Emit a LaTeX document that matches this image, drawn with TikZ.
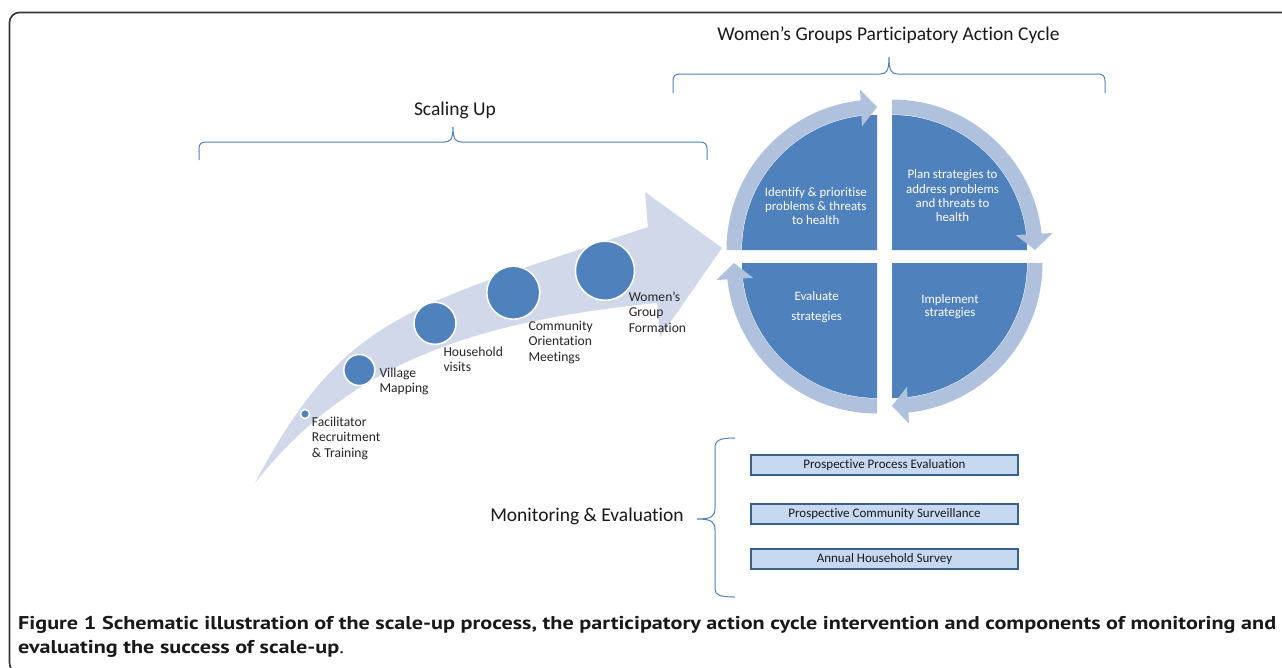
\documentclass[tikz,border=0pt]{standalone}
\usepackage{fontspec}
\setmainfont{Carlito}[Ligatures=NoCommon]
\newfontfamily\capfont{PT Sans}[Ligatures=NoCommon]
\usepackage{graphicx}
\usetikzlibrary{arrows.meta,bending}
\definecolor{qblue}{HTML}{4F81BD}
\definecolor{ringblue}{HTML}{AFC1DD}
\definecolor{arrowblue}{HTML}{D0D8E9}
\definecolor{boxfill}{HTML}{C6D9F1}
\definecolor{boxline}{HTML}{3A5F8B}
\definecolor{txt}{HTML}{262626}
\definecolor{framegray}{HTML}{333333}
\newlength\capwidA
\begin{document}%
\settowidth\capwidA{\capfont\fontsize{18.5}{22}\selectfont\bfseries Figure 1 Schematic illustration of the scale-up process, the participatory action cycle intervention and components of monitoring and}%
\pgfmathsetmacro\capsx{1258/\the\capwidA}%
\begin{tikzpicture}[x=1pt,y=1pt,
  quad/.style={fill=qblue},
  ring/.style={draw=ringblue, line width=15pt, -{Triangle[width=36pt,length=16pt]}},
  dot/.style={circle, fill=qblue, draw=white, line width=1.5pt, inner sep=0pt},
  steplabel/.style={anchor=north west, inner sep=0pt, align=left, text=txt, font=\fontsize{13.6}{15.5}\selectfont},
  cyctext/.style={align=center, text=white, inner sep=0pt, font=\fontsize{12.9}{14.3}\selectfont},
  mbrace/.style={draw=qblue, line width=1pt},
  headtext/.style={inner sep=0pt, text=black!90, font=\fontsize{19.5}{23}\selectfont},
  mbox/.style={draw=boxline, fill=boxfill, line width=1.5pt, minimum width=267pt, minimum height=20pt, inner sep=0pt, text=black!90, font=\fontsize{13}{15}\selectfont},
  captext/.style={anchor=base west, inner sep=0pt, text=black!90, font=\capfont\fontsize{18.5}{22}\selectfont\bfseries}
]
\useasboundingbox (0,0) rectangle (1282,-667);
\clip (0,0) rectangle (1282,-667);
\fill[white] (0,0) rectangle (1282,-667);
% frame
\draw[framegray, line width=1.6pt, rounded corners=10pt] (1300,-12.5) -- (9.5,-12.5) -- (9.5,-673) -- (1300,-673);
% big curved arrow
\fill[arrowblue] (255,-483) .. controls (345,-313.4) and (408,-307) .. (648,-227) -- (645,-192) -- (722,-248) -- (660,-337) -- (657,-303) .. controls (487,-320) and (354,-357) .. (255,-483) -- cycle;
% circles
\node[dot, minimum size=9pt] (c1) at (305,-414) {};
\node[dot, minimum size=31pt] (c2) at (359.3,-370) {};
\node[dot, minimum size=42pt] (c3) at (435,-323.3) {};
\node[dot, minimum size=53pt] (c4) at (513.3,-292.7) {};
\node[dot, minimum size=59pt] (c5) at (605,-270.7) {};
% step labels
\node[steplabel] (l1) at (311.7,-416.5) {Facilitator\\Recruitment\\\& Training};
\node[steplabel] (l2) at (379.3,-367.5) {Village\\Mapping};
\node[steplabel] (l3) at (443.3,-346.5) {Household\\visits};
\node[steplabel] (l4) at (528.3,-320.5) {Community\\Orientation\\Meetings};
\node[steplabel] (l5) at (628.7,-291.5) {Women’s\\Group\\Formation};
% cycle quadrants
\fill[quad] (877,-250) -- ++(-135,0) arc[start angle=180,end angle=90,radius=135] -- cycle;
\fill[quad] (892,-250) -- ++(0,135) arc[start angle=90,end angle=0,radius=135] -- cycle;
\fill[quad] (892,-263) -- ++(135,0) arc[start angle=0,end angle=-90,radius=135] -- cycle;
\fill[quad] (877,-263) -- ++(0,-135) arc[start angle=-90,end angle=-180,radius=135] -- cycle;
% ring arrows
\draw[ring] (877,-250) ++(-143,0) arc[start angle=180,end angle=90,radius=143];
\draw[ring] (892,-250) ++(0,143) arc[start angle=90,end angle=0,radius=143];
\draw[ring] (892,-263) ++(143,0) arc[start angle=0,end angle=-90,radius=143];
\draw[ring] (877,-263) ++(0,-143) arc[start angle=-90,end angle=-180,radius=143];
% cycle texts
\node[cyctext] (q1) at (815.8,-206) {Identify \& prioritise\\problems \& threats\\to health};
\node[cyctext] (q2) at (952.5,-196) {Plan strategies to\\address problems\\and threats to\\health};
\node[cyctext, font=\fontsize{12.9}{20}\selectfont] (q3) at (816.7,-306.7) {Evaluate\\strategies};
\node[cyctext, font=\fontsize{12.9}{13.5}\selectfont] (q4) at (950,-306.5) {Implement\\strategies};
% headings and braces
\node[headtext] (h1) at (455,-110) {Scaling Up};
\draw[mbrace] (199,-160) -- (199,-149) .. controls (199,-144) and (201,-142) .. (206,-142) -- (444,-142) .. controls (450,-142) and (453,-140) .. (453,-127) .. controls (453,-140) and (456,-142) .. (462,-142) -- (700,-142) .. controls (705,-142) and (707,-144) .. (707,-149) -- (707,-160);
\node[headtext] (h2) at (888.5,-35) {Women’s Groups Participatory Action Cycle};
\draw[mbrace] (673,-93) -- (673,-81) .. controls (673,-76) and (675,-74) .. (680,-74) -- (880,-74) .. controls (886,-74) and (889,-72) .. (889,-57) .. controls (889,-72) and (892,-74) .. (898,-74) -- (1098,-74) .. controls (1103,-74) and (1105,-76) .. (1105,-81) -- (1105,-93);
\node[headtext] (h3) at (587,-516) {Monitoring \& Evaluation};
\draw[mbrace] (735,-438) .. controls (720,-438) and (715,-440) .. (715,-448) -- (715,-508) .. controls (715,-516) and (712,-519) .. (697,-519) .. controls (712,-519) and (715,-522) .. (715,-530) -- (715,-589) .. controls (715,-595) and (720,-597) .. (735,-597);
% boxes
\node[mbox] (b1) at (884.5,-465) {Prospective Process Evaluation};
\node[mbox] (b2) at (884.5,-514) {Prospective Community Surveillance};
\node[mbox] (b3) at (884.5,-559) {Annual Household Survey};
% caption
\node[captext] (cap1) at (18,-629.3) {\scalebox{\capsx}[1]{Figure 1 Schematic illustration of the scale-up process, the participatory action cycle intervention and components of monitoring and}};
\node[captext] (cap2) at (18,-653.5) {\scalebox{\capsx}[1]{evaluating the success of scale-up\mdseries.}};
\end{tikzpicture}
\end{document}
